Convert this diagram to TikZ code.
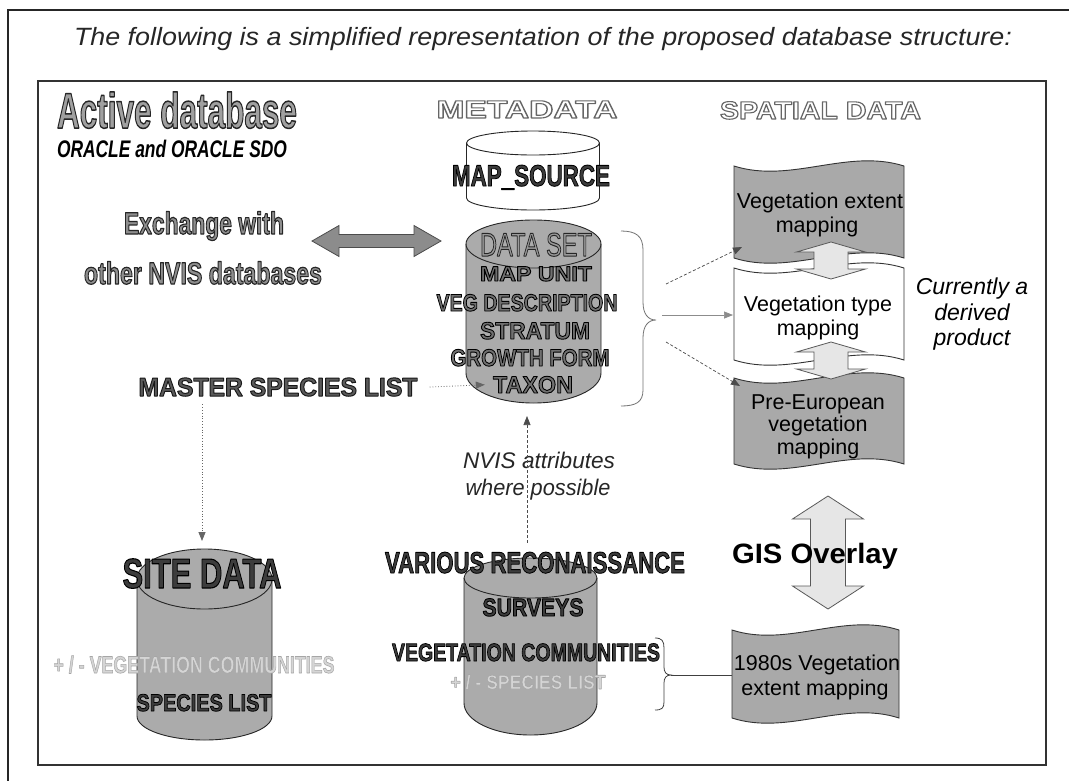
\documentclass[tikz,border=0pt]{standalone}
\usepackage{fontspec}
\setmainfont{Liberation Sans}
\usepackage{graphicx}
\usetikzlibrary{arrows.meta,calc}
\definecolor{cylgray}{HTML}{ABABAB}
\definecolor{flaggray}{HTML}{A9A9A9}
\definecolor{exgray}{HTML}{8C8C8C}
\definecolor{lightarr}{HTML}{E6E6E6}
\definecolor{actfill}{HTML}{A0A0A0}
\definecolor{exfill}{HTML}{8E8E8E}
\definecolor{dsfill}{HTML}{9A9A9A}
\definecolor{midfill}{HTML}{707070}
\definecolor{darkfill}{HTML}{3C3C3C}
\definecolor{lightfill}{HTML}{D5D5D5}
\definecolor{mslfill}{HTML}{5A5A5A}
\newsavebox\fitbox
\newcommand\fitw[2]{\sbox\fitbox{#2}\pgfmathsetmacro\fitfac{#1/\the\wd\fitbox}\scalebox{\fitfac}[1]{\usebox\fitbox}}
% outlined text: #1 stroke width, #2 fill colour, #3 stroke grey level, #4 text
\newcommand\olt[4]{{\color{#2}\special{pdf:literal direct #3 G #1 w 1 j 1 J 2 Tr}#4\special{pdf:literal direct 0 Tr}}}
\newcommand\fs[1]{\fontsize{#1}{#1}\selectfont}
\newcommand\cyl[7]{%
  \filldraw[cylline,fill=#7] ({#1-#2},#3) -- ({#1-#2},#5)
    arc[start angle=180,end angle=360,x radius=#2pt,y radius=#6pt] -- ({#1+#2},#3)
    arc[start angle=0,end angle=180,x radius=#2pt,y radius=#4pt] -- cycle;
  \draw[cylline] ({#1-#2},#3) arc[start angle=180,end angle=360,x radius=#2pt,y radius=#4pt];}
\newcommand\tapeflag[5]{%
  \filldraw[flagline,fill=#5] (#1,#3) .. controls ({#1+(#2-#1)/3},{#3+18}) and ({#1+2*(#2-#1)/3},{#3-18}) .. (#2,#3)
    -- (#2,#4) .. controls ({#1+2*(#2-#1)/3},{#4-18}) and ({#1+(#2-#1)/3},{#4+18}) .. (#1,#4) -- cycle;}
\newcommand\vdarrow[7]{%
  \filldraw[fill=#7,draw=black!65,line width=0.8pt] (#1,#2) -- ({#1+#4},{#2+#6}) -- ({#1+#5},{#2+#6}) -- ({#1+#5},{#3-#6})
    -- ({#1+#4},{#3-#6}) -- (#1,#3) -- ({#1-#4},{#3-#6}) -- ({#1-#5},{#3-#6}) -- ({#1-#5},{#2+#6})
    -- ({#1-#4},{#2+#6}) -- cycle;}
\begin{document}
\begin{tikzpicture}[x=1pt,y=-1pt,
  tx/.style={inner sep=0pt,anchor=base},
  cylline/.style={draw=black!85,line width=0.9pt},
  flagline/.style={draw=black!80,line width=0.9pt},
  tip/.style={-{Triangle[length=9pt,width=7pt]}},
  dotconn/.style={tip,draw=black!60,line width=0.8pt,dotted},
  dashconn/.style={tip,draw=black!70,line width=0.7pt,dash pattern=on 3pt off 2pt},
  solconn/.style={tip,draw=black!45,line width=0.7pt},
  bracestyle/.style={draw=black!55,line width=0.8pt}]
\useasboundingbox (0,0) rectangle (1069,780);
\fill[white] (0,0) rectangle (1069,780);
% frames
\draw[line width=1.6pt,black!85] (8,800) -- (8,10) -- (1090,10);
\draw[line width=1.3pt,black!80] (38,81) rectangle (1046,765);
% cylinders
\cyl{533}{66.5}{143}{12}{198}{12}{white}
\cyl{533.5}{67.5}{244}{24}{373}{30}{cylgray}
\cyl{204.5}{67.5}{579}{30}{716}{24}{cylgray}
\cyl{530.5}{66.5}{578}{20}{703}{32}{cylgray}
% flags
\tapeflag{734}{904}{166}{258}{flaggray}
\tapeflag{734}{904}{268}{360}{white}
\tapeflag{734}{904}{378}{464}{flaggray}
\tapeflag{732}{899}{630}{718}{flaggray}
% block arrows
\filldraw[fill=exgray,draw=black!70,line width=0.8pt] (312,241) -- (339,225.5) -- (339,234.5) -- (414,234.5) -- (414,225.5) -- (441,241) -- (414,256.5) -- (414,247.5) -- (339,247.5) -- (339,256.5) -- cycle;
\vdarrow{831}{242}{279}{34.5}{17}{10}{lightarr}
\vdarrow{831}{342}{379}{34.5}{17}{10}{lightarr}
\vdarrow{828}{496}{609}{35.5}{17.5}{23}{lightarr}
% braces
\draw[bracestyle] (621,231) .. controls (636,231) and (643,236) .. (643,250) -- (643,302) .. controls (643,314) and (648,320) .. (656,320) .. controls (648,320) and (643,326) .. (643,338) -- (643,390) .. controls (643,402) and (636,406) .. (621,406);
\draw[draw=black!75,line width=0.8pt] (655,638) .. controls (662,638) and (664,641) .. (664,648) -- (664,667) .. controls (664,672) and (666,675) .. (671,675) .. controls (666,675) and (664,678) .. (664,683) -- (664,702) .. controls (664,708) and (662,710) .. (655,710);
% texts
\node[tx,font=\fs{25}\itshape,text=black!85] (title) at (543,45) {\fitw{938}{The following is a simplified representation of the proposed database structure:}};
\node[tx,font=\fs{50}\bfseries] (active) at (177,128) {\fitw{240}{\olt{1.5}{actfill}{0.15}{Active database}}};
\node[tx,font=\fs{24}\bfseries\itshape] (oracle) at (172,157) {\fitw{230}{ORACLE and ORACLE SDO}};
\node[tx,font=\fs{25}\bfseries] (meta) at (527,118) {\fitw{181}{\olt{1.1}{white}{0.4}{METADATA}}};
\node[tx,font=\fs{25}\bfseries] (spatial) at (820.5,119) {\fitw{201}{\olt{1.1}{white}{0.4}{SPATIAL DATA}}};
\node[tx,font=\fs{30}\bfseries] (mapsrc) at (531,186) {\fitw{158}{\olt{0.9}{darkfill}{0}{MAP\_SOURCE}}};
\node[tx,font=\fs{31}\bfseries] (exch1) at (204,234) {\fitw{160}{\olt{1.2}{exfill}{0.15}{Exchange with}}};
\node[tx,font=\fs{31}\bfseries] (exch2) at (203,284) {\fitw{238}{\olt{1.2}{exfill}{0.15}{other NVIS databases}}};
\node[tx,font=\fs{33}] (dataset) at (536,256) {\fitw{112}{\olt{1.0}{dsfill}{0.15}{DATA SET}}};
\node[tx,font=\fs{21}\bfseries] (mapunit) at (536,281) {\fitw{112}{\olt{0.9}{midfill}{0}{MAP UNIT}}};
\node[tx,font=\fs{24}\bfseries] (vegdesc) at (527,311) {\fitw{181}{\olt{0.9}{midfill}{0}{VEG DESCRIPTION}}};
\node[tx,font=\fs{24}\bfseries] (stratum) at (535,339) {\fitw{110}{\olt{0.9}{midfill}{0}{STRATUM}}};
\node[tx,font=\fs{24}\bfseries] (growth) at (530,366) {\fitw{159}{\olt{0.9}{midfill}{0}{GROWTH FORM}}};
\node[tx,font=\fs{24}\bfseries] (taxon) at (533,393) {\fitw{80}{\olt{0.9}{midfill}{0}{TAXON}}};
\node[tx,font=\fs{26}\bfseries] (msl) at (278,396) {\fitw{279}{\olt{1.0}{mslfill}{0.1}{MASTER SPECIES LIST}}};
\node[tx,font=\fs{42}\bfseries] (sitedata) at (202,588) {\fitw{159}{\olt{1.1}{darkfill}{0}{SITE DATA}}};
\node[tx,font=\fs{24}\bfseries] (sitevc) at (194,673) {\fitw{281}{\olt{0.6}{lightfill}{0.65}{+ / - VEGETATION COMMUNITIES}}};
\node[tx,font=\fs{24}\bfseries] (sitesl) at (204,711) {\fitw{135}{\olt{0.8}{darkfill}{0}{SPECIES LIST}}};
\node[tx,font=\fs{22.6}\itshape,text=black!85] (nvis1) at (539,468) {\fitw{152}{NVIS attributes}};
\node[tx,font=\fs{22.6}\itshape,text=black!85] (nvis2) at (538,495) {\fitw{145}{where possible}};
\node[tx,font=\fs{30}\bfseries] (various) at (535,573) {\fitw{300}{\olt{0.9}{darkfill}{0}{VARIOUS RECONAISSANCE}}};
\node[tx,font=\fs{25}\bfseries] (surveys) at (533,616) {\fitw{101}{\olt{0.9}{darkfill}{0}{SURVEYS}}};
\node[tx,font=\fs{25}\bfseries] (vegcomm) at (526,661) {\fitw{268}{\olt{0.8}{darkfill}{0}{VEGETATION COMMUNITIES}}};
\node[tx,font=\fs{20}\bfseries] (varsl) at (528,689) {\fitw{155}{\olt{0.6}{lightfill}{0.65}{+ / - SPECIES LIST}}};
\node[tx,font=\fs{21.5}] (f1a) at (820,208) {Vegetation extent};
\node[tx,font=\fs{21.5}] (f1b) at (817,232) {mapping};
\node[tx,font=\fs{21.5}] (f2a) at (818,311) {Vegetation type};
\node[tx,font=\fs{21.5}] (f2b) at (818,335) {mapping};
\node[tx,font=\fs{21.5}] (f3a) at (818,409) {Pre-European};
\node[tx,font=\fs{21.5}] (f3b) at (818,431) {vegetation};
\node[tx,font=\fs{21.5}] (f3c) at (818,454) {mapping};
\node[tx,font=\fs{21.5}] (f4a) at (817,670) {1980s Vegetation};
\node[tx,font=\fs{21.5}] (f4b) at (815,695) {extent mapping};
\node[tx,font=\fs{23}\itshape] (cur1) at (972,294) {Currently a};
\node[tx,font=\fs{23}\itshape] (cur2) at (972,320) {derived};
\node[tx,font=\fs{23}\itshape] (cur3) at (972,345) {product};
\node[tx,font=\fs{28}\bfseries] (gis) at (815,563) {\fitw{166}{GIS Overlay}};
% connector coordinates
\coordinate (sitetop) at (202,541);
\coordinate (mslb) at ([yshift=-8pt]msl.south);
\coordinate (dsbot) at (527,416);
\coordinate (vtop) at ([yshift=9pt]various.north);
\coordinate (b1a) at (666,284);
\coordinate (b1b) at (662,315);
\coordinate (b1c) at (666,342);
\coordinate (f1in) at (742,247);
\coordinate (f2in) at (733,315);
\coordinate (f3in) at (740,386);
\coordinate (b2tip) at (671,675);
\coordinate (f4in) at (732,675);
% connectors
\draw[dotconn] ([xshift=12pt]msl.east) -- ([xshift=-8pt]taxon.west);
\draw[dotconn] (mslb -| sitetop) -- (sitetop);
\draw[dashconn] (vtop -| dsbot) -- (dsbot);
\draw[dashconn] (b1a) -- (f1in);
\draw[solconn] (b1b) -- (f2in);
\draw[dashconn] (b1c) -- (f3in);
\draw[draw=black!75,line width=0.8pt] (b2tip) -- (f4in);
\end{tikzpicture}
\end{document}
